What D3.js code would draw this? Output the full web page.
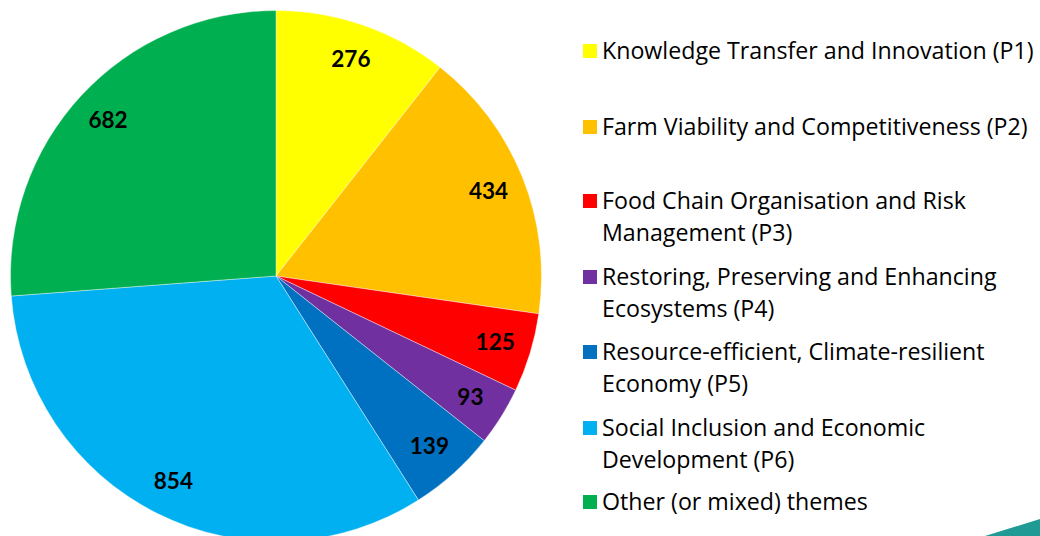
<!DOCTYPE html>
<html>
<head>
<meta charset="utf-8">
<script src="https://cdn.jsdelivr.net/npm/d3@7"></script>
<style>
  body { margin: 0; background: #fff; }
  svg text { font-family: Lato, 'Open Sans', sans-serif; }
  svg .legend text { font-family: 'Open Sans', Lato, sans-serif; }
</style>
</head>
<body>
<div id="chart"></div>
<script>
// data
var categories = [
  'Knowledge Transfer and Innovation (P1)',
  'Farm Viability and Competitiveness (P2)',
  'Food Chain Organisation and Risk Management (P3)',
  'Restoring, Preserving and Enhancing Ecosystems (P4)',
  'Resource-efficient, Climate-resilient Economy (P5)',
  'Social Inclusion and Economic Development (P6)',
  'Other (or mixed) themes'
]
var legendLines = [
  ['Knowledge Transfer and Innovation (P1)'],
  ['Farm Viability and Competitiveness (P2)'],
  ['Food Chain Organisation and Risk', 'Management (P3)'],
  ['Restoring, Preserving and Enhancing', 'Ecosystems (P4)'],
  ['Resource-efficient, Climate-resilient', 'Economy (P5)'],
  ['Social Inclusion and Economic', 'Development (P6)'],
  ['Other (or mixed) themes']
]
var values = [276, 434, 125, 93, 139, 854, 682]
var colors = ['#FFFF00', '#FFC000', '#FF0000', '#7030A0', '#0070C0', '#00B0F0', '#00B050']

var width = 1040
var height = 536
var radius = 265.5

var svg = d3
  .select('#chart')
  .append('svg')
  .attr('width', width)
  .attr('height', height)

var colorScale = d3.scaleOrdinal().domain(categories).range(colors)

var data = categories.map((c, i) => ({ name: c, value: values[i] }))

var pie = d3.pie().sort(null).value(d => d.value)
var arc = d3.arc().innerRadius(0).outerRadius(radius)
var labelArc = d3.arc().innerRadius(229).outerRadius(229)

var g = svg.append('g').attr('transform', 'translate(276,276)')

g.selectAll('.slice')
  .data(pie(data))
  .enter()
  .append('path')
  .attr('class', 'slice')
  .attr('d', arc)
  .attr('fill', d => colorScale(d.data.name))
  .attr('stroke', '#fff')
  .attr('stroke-width', 0.4)

g.selectAll('.value-label')
  .data(pie(data))
  .enter()
  .append('text')
  .attr('class', 'value-label')
  .attr('transform', d => 'translate(' + labelArc.centroid(d) + ')')
  .attr('text-anchor', 'middle')
  .attr('dy', '0.35em')
  .attr('font-size', 22.5)
  .attr('font-weight', 'bold')
  .attr('fill', '#000')
  .text(d => d.data.value)

// legend
var rowTops = [51, 127, 201, 277, 352, 428, 502]
var lineGap = 32

var legend = svg
  .selectAll('.legend')
  .data(categories)
  .enter()
  .append('g')
  .attr('class', 'legend')
  .attr('transform', (d, i) => 'translate(583,' + rowTops[i] + ')')

legend
  .append('rect')
  .attr('x', 0)
  .attr('y', -7)
  .attr('width', 14)
  .attr('height', 14)
  .attr('fill', d => colorScale(d))

legend
  .append('text')
  .attr('x', 19)
  .attr('font-size', 23.2)
  .attr('fill', '#000')
  .selectAll('tspan')
  .data((d, i) => legendLines[i])
  .enter()
  .append('tspan')
  .attr('x', 19)
  .attr('y', (d, i) => i * lineGap)
  .attr('dy', '0.35em')
  .text(d => d)

// corner decoration
svg
  .append('path')
  .attr('d', 'M985,536 L1040,519 L1040,536 Z')
  .attr('fill', '#1f9a94')
</script>
</body>
</html>
